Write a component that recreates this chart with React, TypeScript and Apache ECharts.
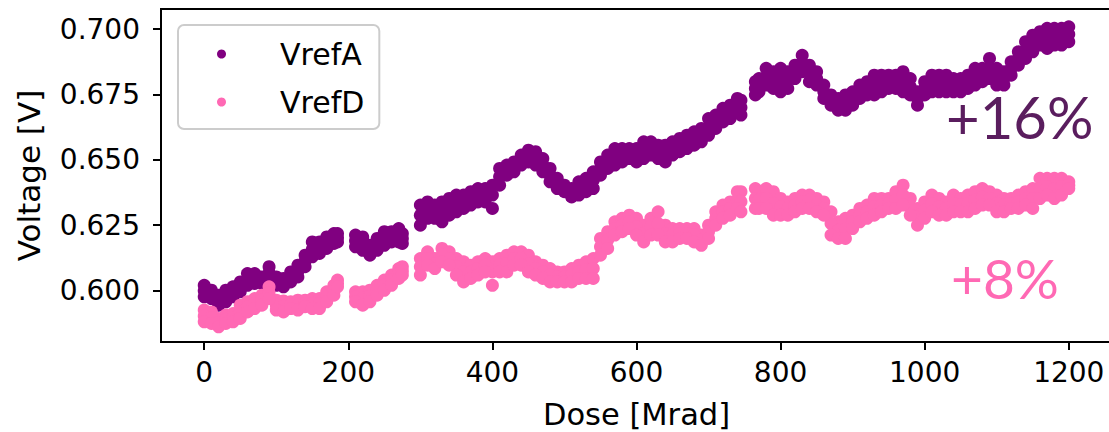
import React, { useEffect, useRef } from "react";
import * as echarts from "echarts";

// Dose points (Mrad); gaps in the run are simply absent
const doses = [
  0, 10, 20, 30, 40, 50, 60, 70, 80, 90, 100, 110, 120, 130, 140, 150, 160, 170, 180, 185,
  210, 220, 230, 240, 250, 260, 270, 275,
  300, 310, 320, 330, 340, 350, 360, 370, 380, 390, 400, 410, 420, 430, 440, 450, 460, 470, 480, 490,
  500, 510, 520, 530, 540, 550, 560, 570, 580, 590, 600, 610, 620, 630, 640, 650, 660, 670, 680, 690,
  700, 710, 720, 730, 740, 745,
  765, 770, 780, 790, 800, 810, 820, 830, 840, 850, 860, 870, 880, 890, 900, 910, 920, 930, 940, 950,
  960, 970, 980, 990, 1000, 1010, 1020, 1030, 1040, 1050, 1060, 1070, 1080, 1090, 1100, 1110, 1120,
  1130, 1140, 1150, 1160, 1170, 1180, 1190, 1200,
];

// VrefA readings [V]: band centre, upper and lower edge of the measurement scatter
const vrefAMid = [
  0.5999, 0.5986, 0.5963, 0.5979, 0.5995, 0.6014, 0.6043, 0.6046, 0.604, 0.6068, 0.6036, 0.603, 0.6052, 0.6074, 0.6113, 0.6157, 0.6164, 0.6183, 0.6199, 0.6202,
  0.619, 0.618, 0.6154, 0.6176, 0.6199, 0.6205, 0.6212, 0.6199,
  0.6288, 0.6307, 0.6301, 0.6301, 0.632, 0.6333, 0.6339, 0.6352, 0.6365, 0.6365, 0.6365, 0.6435, 0.646, 0.6473, 0.6499, 0.6515, 0.6505, 0.648, 0.6441, 0.641,
  0.639, 0.6374, 0.639, 0.6403, 0.6422, 0.6467, 0.6492, 0.6511, 0.6518, 0.6524, 0.6518, 0.6537, 0.6543, 0.6531, 0.6524, 0.6543, 0.6556, 0.6569, 0.6582, 0.6594,
  0.6626, 0.6645, 0.6671, 0.6684, 0.6709, 0.67,
  0.6773, 0.6786, 0.6818, 0.6805, 0.6805, 0.6805, 0.6837, 0.6869, 0.683, 0.6811, 0.676, 0.6728, 0.6713, 0.6719, 0.6735, 0.676, 0.6773, 0.6786, 0.6792, 0.6799,
  0.6799, 0.6799, 0.678, 0.6735, 0.6773, 0.6792, 0.6792, 0.6792, 0.6786, 0.6786, 0.6799, 0.6818, 0.6824, 0.6849, 0.6818, 0.6811, 0.6849,
  0.6888, 0.692, 0.6945, 0.6964, 0.6964, 0.6971, 0.6971, 0.698,
];
const vrefAHigh = [
  0.602, 0.6001, 0.5982, 0.6001, 0.6014, 0.6033, 0.6065, 0.6065, 0.6052, 0.6091, 0.6052, 0.6046, 0.6071, 0.6097, 0.6135, 0.6186, 0.6186, 0.6205, 0.6218, 0.6218,
  0.6212, 0.6205, 0.6173, 0.6199, 0.6225, 0.6225, 0.6237, 0.6218,
  0.6327, 0.6339, 0.6327, 0.6339, 0.6352, 0.6365, 0.6365, 0.6378, 0.639, 0.639, 0.6403, 0.6467, 0.648, 0.6492, 0.6518, 0.6537, 0.6531, 0.6505, 0.6467, 0.6429,
  0.6403, 0.639, 0.6416, 0.6429, 0.6454, 0.6492, 0.6518, 0.6543, 0.6543, 0.6543, 0.6543, 0.6569, 0.6569, 0.6556, 0.6556, 0.6569, 0.6582, 0.6594, 0.6607, 0.662,
  0.6658, 0.6671, 0.6697, 0.6709, 0.6735, 0.6728,
  0.6799, 0.6811, 0.685, 0.6837, 0.685, 0.6837, 0.6862, 0.69, 0.6862, 0.6837, 0.6786, 0.6748, 0.6735, 0.6748, 0.676, 0.6786, 0.6799, 0.6824, 0.6824, 0.6824,
  0.6824, 0.6837, 0.6811, 0.676, 0.6799, 0.6824, 0.6824, 0.6824, 0.6811, 0.6811, 0.6824, 0.685, 0.685, 0.6888, 0.685, 0.6837, 0.6875,
  0.6913, 0.6952, 0.6977, 0.699, 0.7003, 0.7003, 0.7003, 0.7009,
];
const vrefALow = [
  0.5976, 0.5969, 0.5944, 0.5957, 0.5976, 0.5995, 0.602, 0.6027, 0.6027, 0.6046, 0.602, 0.6014, 0.6033, 0.6052, 0.6091, 0.6129, 0.6142, 0.6161, 0.618, 0.6186,
  0.6167, 0.6154, 0.6135, 0.6154, 0.6173, 0.6186, 0.6186, 0.618,
  0.625, 0.6276, 0.6276, 0.6263, 0.6288, 0.6301, 0.6314, 0.6327, 0.6339, 0.6339, 0.6314, 0.6403, 0.6441, 0.6454, 0.648, 0.6492, 0.648, 0.6454, 0.6416, 0.639,
  0.6378, 0.6358, 0.6365, 0.6378, 0.639, 0.6441, 0.6467, 0.648, 0.6492, 0.6505, 0.6492, 0.6505, 0.6518, 0.6505, 0.6492, 0.6518, 0.6531, 0.6543, 0.6556, 0.6569,
  0.6594, 0.662, 0.6645, 0.6658, 0.6684, 0.6671,
  0.6748, 0.676, 0.6786, 0.6773, 0.676, 0.6773, 0.6811, 0.6837, 0.6799, 0.6786, 0.6735, 0.6709, 0.669, 0.669, 0.6709, 0.6735, 0.6748, 0.6748, 0.676, 0.6773,
  0.6773, 0.676, 0.6748, 0.6709, 0.6748, 0.676, 0.676, 0.676, 0.676, 0.676, 0.6773, 0.6786, 0.6799, 0.6811, 0.6786, 0.6786, 0.6824,
  0.6862, 0.6888, 0.6913, 0.6939, 0.6926, 0.6939, 0.6939, 0.6952,
];

// VrefD readings [V]
const vrefDMid = [
  0.5902, 0.5896, 0.5877, 0.589, 0.5896, 0.5918, 0.5938, 0.595, 0.5963, 0.5991, 0.5944, 0.594, 0.5944, 0.5944, 0.595, 0.595, 0.595, 0.5976, 0.6001, 0.6027,
  0.5976, 0.597, 0.5979, 0.6001, 0.602, 0.604, 0.6065, 0.6075,
  0.6091, 0.6122, 0.6103, 0.6135, 0.6122, 0.6091, 0.6071, 0.6071, 0.6084, 0.6097, 0.6071, 0.6097, 0.6103, 0.6122, 0.6122, 0.6103, 0.6084, 0.6071, 0.6059, 0.6052,
  0.6052, 0.6059, 0.6071, 0.6078, 0.6084, 0.6167, 0.6193, 0.6237, 0.625, 0.6263, 0.6244, 0.6218, 0.6244, 0.6256, 0.6218, 0.6212, 0.6218, 0.6218, 0.6212, 0.6193,
  0.6225, 0.6276, 0.6301, 0.6314, 0.6346, 0.634,
  0.6352, 0.6346, 0.6352, 0.6333, 0.632, 0.6314, 0.6327, 0.6339, 0.6346, 0.6327, 0.6314, 0.6256, 0.6231, 0.6237, 0.6263, 0.6288, 0.6301, 0.632, 0.6327, 0.6333,
  0.6346, 0.6365, 0.632, 0.6282, 0.6307, 0.6333, 0.632, 0.6314, 0.6333, 0.6327, 0.6333, 0.6346, 0.6358, 0.6352, 0.6333, 0.6327, 0.6333,
  0.6339, 0.6352, 0.6352, 0.639, 0.6397, 0.639, 0.6397, 0.6403,
];
const vrefDHigh = [
  0.5925, 0.5918, 0.5893, 0.5906, 0.5912, 0.5944, 0.5957, 0.5969, 0.5982, 0.6014, 0.5963, 0.596, 0.5957, 0.5963, 0.5963, 0.5969, 0.5969, 0.5995, 0.602, 0.604,
  0.5995, 0.5995, 0.6001, 0.602, 0.604, 0.6059, 0.6084, 0.6091,
  0.6122, 0.6148, 0.6122, 0.6161, 0.6148, 0.6122, 0.611, 0.6097, 0.611, 0.6122, 0.611, 0.6122, 0.6135, 0.6148, 0.6148, 0.6135, 0.611, 0.6097, 0.6084, 0.6071,
  0.6071, 0.6084, 0.6097, 0.611, 0.6122, 0.6199, 0.6225, 0.6263, 0.6276, 0.6288, 0.6276, 0.625, 0.6276, 0.6301, 0.625, 0.6237, 0.6237, 0.6237, 0.6237, 0.6212,
  0.625, 0.6301, 0.6327, 0.6339, 0.6378, 0.6378,
  0.639, 0.6378, 0.639, 0.6378, 0.6352, 0.6339, 0.6352, 0.6365, 0.6365, 0.6352, 0.6339, 0.6301, 0.6263, 0.6276, 0.6288, 0.6314, 0.6327, 0.6352, 0.6352, 0.6352,
  0.6378, 0.6403, 0.6352, 0.6314, 0.6339, 0.6365, 0.6352, 0.6339, 0.6365, 0.6352, 0.6365, 0.6378, 0.639, 0.6378, 0.6365, 0.6352, 0.6352,
  0.6365, 0.6378, 0.639, 0.6429, 0.6429, 0.6429, 0.6429, 0.6416,
];
const vrefDLow = [
  0.588, 0.5874, 0.5861, 0.5874, 0.588, 0.5893, 0.5918, 0.5931, 0.5944, 0.5969, 0.5925, 0.5918, 0.5931, 0.5925, 0.5938, 0.5931, 0.5931, 0.5957, 0.5982, 0.6014,
  0.5957, 0.5944, 0.5957, 0.5982, 0.6001, 0.602, 0.6046, 0.6059,
  0.6059, 0.6097, 0.6084, 0.611, 0.6097, 0.6059, 0.6033, 0.6046, 0.6059, 0.6071, 0.602, 0.6071, 0.6071, 0.6097, 0.6097, 0.6071, 0.6059, 0.6046, 0.6033, 0.6033,
  0.6033, 0.6033, 0.6046, 0.6046, 0.6046, 0.6135, 0.6161, 0.6212, 0.6225, 0.6237, 0.6212, 0.6186, 0.6212, 0.6212, 0.6186, 0.6186, 0.6199, 0.6199, 0.6186, 0.6173,
  0.6199, 0.625, 0.6276, 0.6288, 0.6314, 0.6301,
  0.6314, 0.6314, 0.6314, 0.6288, 0.6288, 0.6288, 0.6301, 0.6314, 0.6314, 0.6301, 0.6288, 0.6212, 0.6199, 0.6199, 0.6237, 0.6263, 0.6276, 0.6288, 0.6301, 0.6314,
  0.6314, 0.6327, 0.6288, 0.625, 0.6276, 0.6301, 0.6288, 0.6288, 0.6301, 0.6301, 0.6301, 0.6314, 0.6327, 0.6327, 0.6301, 0.6301, 0.6314,
  0.6314, 0.6327, 0.6314, 0.6352, 0.6365, 0.6352, 0.6365, 0.639,
];

const xTicks = [0, 200, 400, 600, 800, 1000, 1200];
const yTicks = [0.6, 0.625, 0.65, 0.675, 0.7];

const seriesNames = ["VrefA", "VrefD"];
const seriesColors = ["#800080", "#ff69b4"];
const changeLabels = ["+16%", "+8%"];
const changeColors = ["#5a1d5e", "#ff69b4"];

const FONT = "DejaVu Sans";

function toPoints(xs: number[], ...ys: number[][]) {
  const out: number[][] = [];
  ys.forEach((arr) => arr.forEach((v, i) => out.push([xs[i], v])));
  return out;
}

export default function App() {
  const ref = useRef<HTMLDivElement>(null);

  useEffect(() => {
    if (!ref.current) return;
    const chart = echarts.init(ref.current, undefined, { renderer: "svg" });

    const bands = [
      toPoints(doses, vrefAHigh, vrefAMid, vrefALow),
      toPoints(doses, vrefDHigh, vrefDMid, vrefDLow),
    ];

    chart.setOption({
      animation: false,
      backgroundColor: "#ffffff",
      grid: {
        left: 161,
        top: 9,
        width: 951,
        height: 333,
        show: true,
        borderColor: "#000000",
        borderWidth: 2,
        backgroundColor: "transparent",
        containLabel: false,
        outerBoundsMode: "none",
      },
      xAxis: {
        type: "value",
        min: -60,
        max: 1260,
        name: "Dose [Mrad]",
        nameLocation: "middle",
        nameGap: 57,
        nameTextStyle: { fontFamily: FONT, fontSize: 30.5, lineHeight: 30, color: "#000" },
        splitLine: { show: false },
        axisLine: { show: true, onZero: false, lineStyle: { color: "#000", width: 2 } },
        axisTick: { show: true, length: 8, customValues: xTicks, lineStyle: { color: "#000", width: 2 } },
        axisLabel: {
          customValues: xTicks,
          margin: 16,
          fontFamily: FONT,
          fontSize: 28,
          color: "#000",
          formatter: (v: number) => String(v),
        },
      },
      yAxis: {
        type: "value",
        min: 0.5803,
        max: 0.7077,
        name: "Voltage [V]",
        nameLocation: "middle",
        nameGap: 117,
        nameTextStyle: { fontFamily: FONT, fontSize: 31, color: "#000" },
        splitLine: { show: false },
        axisLine: { show: true, onZero: false, lineStyle: { color: "#000", width: 2 } },
        axisTick: { show: true, length: 8, customValues: yTicks, lineStyle: { color: "#000", width: 2 } },
        axisLabel: {
          customValues: yTicks,
          margin: 21,
          fontFamily: FONT,
          fontSize: 28,
          color: "#000",
          formatter: (v: number) => v.toFixed(3),
        },
      },
      legend: {
        left: 178,
        top: 25,
        orient: "vertical",
        itemGap: 18,
        itemWidth: 9,
        itemHeight: 9,
        padding: [14, 15, 12, 39],
        backgroundColor: "rgba(255,255,255,0.8)",
        borderColor: "#cccccc",
        borderWidth: 2,
        borderRadius: 6,
        data: seriesNames.map((n) => ({ name: n, icon: "circle" })),
        textStyle: {
          fontFamily: FONT,
          fontSize: 30,
          color: "#000",
          padding: [0, 0, 0, 49],
        },
      },
      series: seriesNames.map((name, i) => ({
        name,
        type: "scatter",
        data: bands[i],
        symbol: "circle",
        symbolSize: 13,
        itemStyle: { color: seriesColors[i], opacity: 1 },
        emphasis: { disabled: true },
        z: 2 + i,
      })),
      graphic: [
        {
          type: "text",
          left: 946,
          top: 87,
          style: {
            text: changeLabels[0],
            fontFamily: "Lato",
            fontSize: 58,
            fill: changeColors[0],
          },
          z: 10,
        },
        {
          type: "text",
          left: 951,
          top: 250,
          style: {
            text: changeLabels[1],
            fontFamily: "Lato",
            fontSize: 55,
            fill: changeColors[1],
          },
          z: 10,
        },
      ],
    });

    return () => chart.dispose();
  }, []);

  return (
    <div
      ref={ref}
      style={{ position: "absolute", left: 0, top: 0, width: 1109, height: 432 }}
    />
  );
}
